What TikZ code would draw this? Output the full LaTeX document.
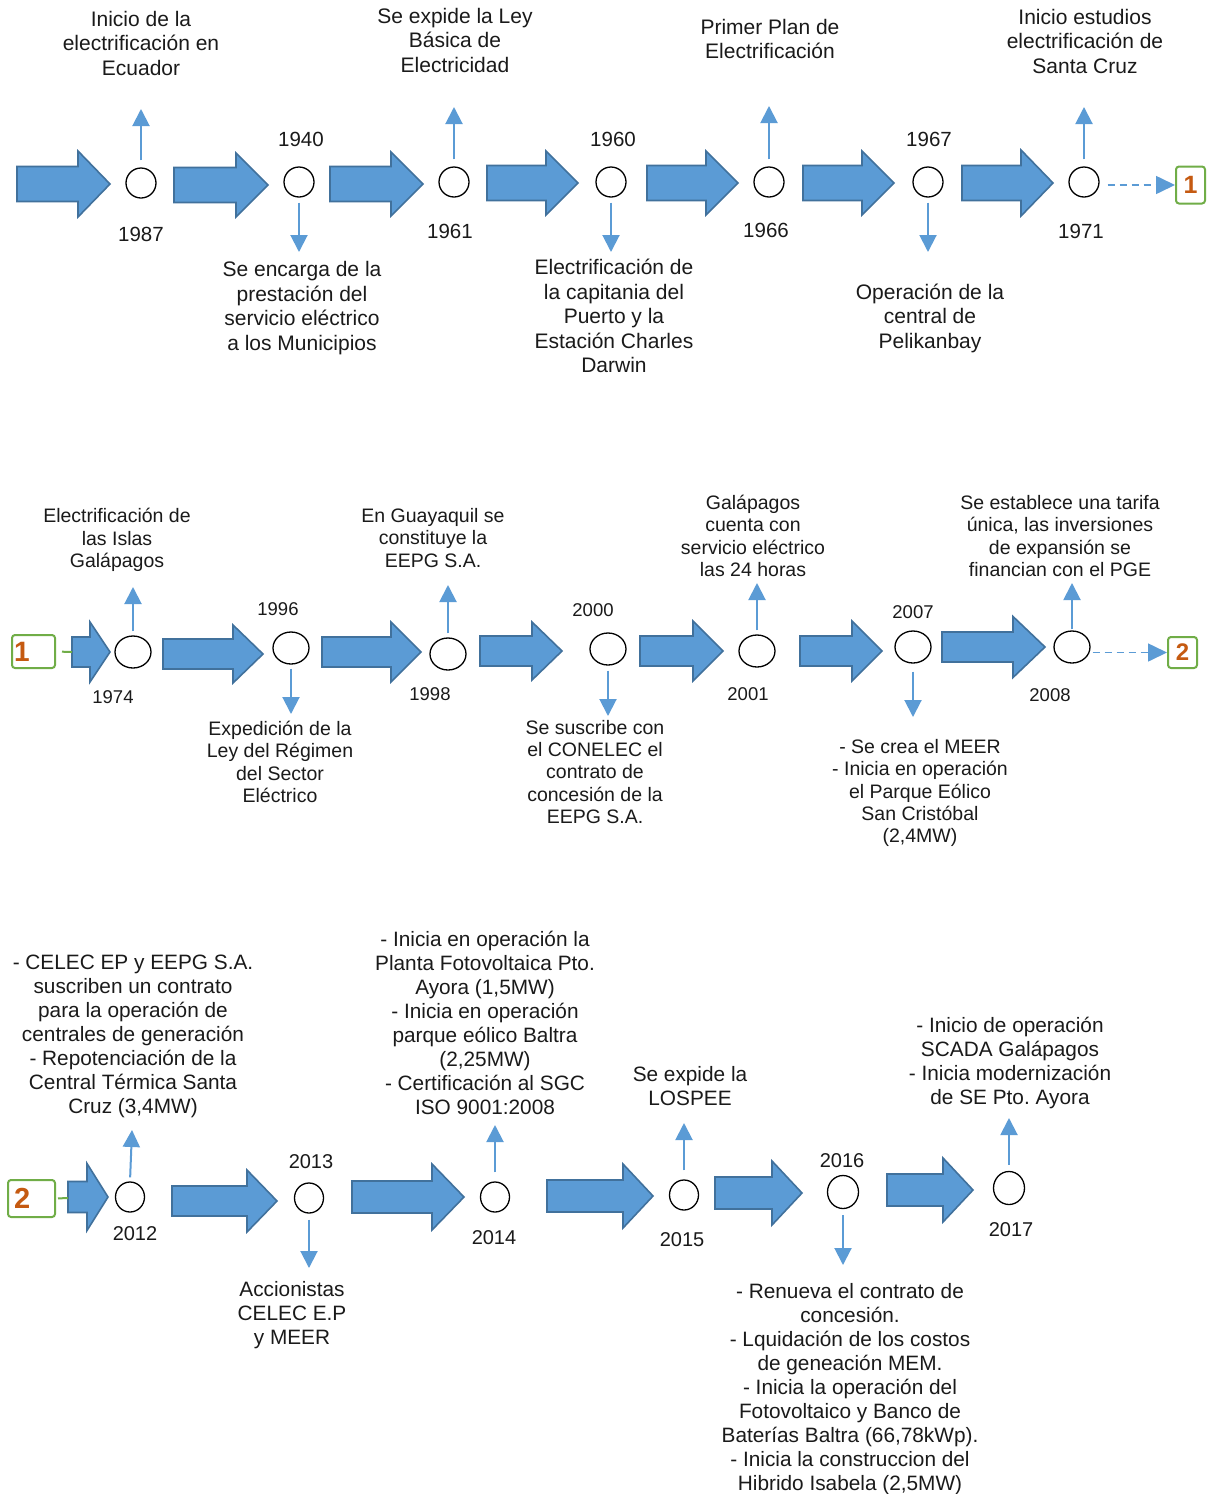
\documentclass[tikz,border=0pt]{standalone}
\usepackage{fontspec}
\setmainfont{Liberation Sans}
\usetikzlibrary{arrows.meta,shapes.geometric}
\definecolor{arrfill}{HTML}{5B9BD5}
\definecolor{arrline}{HTML}{41719C}
\definecolor{boxgreen}{HTML}{70AD47}
\definecolor{numorange}{HTML}{C55A11}
\definecolor{txt}{HTML}{1A1A1A}
\newcommand{\bigarr}[6]{%
  \filldraw[bigarrow] (#1,#4-#5) -- (#2,#4-#5) -- (#2,#4-#6) -- (#3,#4) -- (#2,#4+#6) -- (#2,#4+#5) -- (#1,#4+#5) -- cycle;}
\tikzset{
  bigarrow/.style={fill=arrfill, draw=arrline, line width=1.6pt, line join=miter},
  dotA/.style={ellipse, draw=black, line width=1.3pt, minimum width=30pt, minimum height=30pt, inner sep=0pt},
  dotB/.style={ellipse, draw=black, line width=1.3pt, minimum width=36pt, minimum height=32pt, inner sep=0pt},
  dotC/.style={ellipse, draw=black, line width=1.3pt, minimum width=29pt, minimum height=30pt, inner sep=0pt},
  smallarr/.style={draw=arrfill, line width=2pt, -{Triangle[width=17pt,length=17pt]}},
  dasharr/.style={draw=arrfill, line width=1.6pt, dash pattern=on 7pt off 5pt, -{Triangle[width=18pt,length=19pt]}},
  greenline/.style={draw=boxgreen, line width=2pt},
  numbox/.style={draw=boxgreen, line width=2pt, rounded corners=3pt, inner sep=0pt, text=numorange, font=\bfseries},
  tA/.style={align=center, inner sep=0pt, text=txt, font=\fontsize{21}{24.5}\selectfont\frenchspacing},
  tB/.style={align=center, inner sep=0pt, text=txt, font=\fontsize{19.5}{22.3}\selectfont\frenchspacing},
  tC/.style={align=center, inner sep=0pt, text=txt, font=\fontsize{20.8}{24}\selectfont\frenchspacing},
  yA/.style={inner sep=0pt, text=txt, font=\fontsize{20.5}{24}\selectfont},
  yB/.style={inner sep=0pt, text=txt, font=\fontsize{18.5}{22}\selectfont},
  yC/.style={inner sep=0pt, text=txt, font=\fontsize{20}{24}\selectfont},
}
\begin{document}
\frenchspacing
\begin{tikzpicture}[x=1pt,y=-1pt]
\fill[white] (0,0) rectangle (1212,1494);
\useasboundingbox (0,0) rectangle (1212,1494);

% ---------------- Row 1 ----------------
\bigarr{17}{78}{110}{184}{17.5}{33}
\bigarr{174}{236}{268}{185}{17.5}{32}
\bigarr{330}{391}{423}{184}{17.5}{32}
\bigarr{487}{546}{578}{183}{17.5}{32}
\bigarr{647}{706}{738}{183}{17.5}{32}
\bigarr{803}{862}{894}{183}{17.5}{32}
\bigarr{962}{1021}{1053}{183}{17.5}{33}

\node[dotA] (c1987) at (141,183) {};
\node[dotA] (c1940) at (299,182) {};
\node[dotA] (c1961) at (454,182) {};
\node[dotA] (c1960) at (611,182) {};
\node[dotA] (c1966) at (769,182) {};
\node[dotA] (c1967) at (928,182) {};
\node[dotA] (c1971) at (1084,182) {};

\node[yA] (y1987) at (141,234) {1987};
\node[yA] (y1940) at (301,139) {1940};
\node[yA] (y1961) at (450,231) {1961};
\node[yA] (y1960) at (613,139) {1960};
\node[yA] (y1966) at (766,230) {1966};
\node[yA] (y1967) at (929,139) {1967};
\node[yA] (y1971) at (1081,231) {1971};

\node[tA] (t1987) at (141,43) {Inicio de la\\electrificación en\\Ecuador};
\node[tA] (t1961) at (455,40) {Se expide la Ley\\Básica de\\Electricidad};
\node[tA] (t1966) at (770,39) {Primer Plan de\\Electrificación};
\node[tA] (t1971) at (1085,41) {Inicio estudios\\electrificación de\\Santa Cruz};
\node[tA] (t1940) at (302,308) {Se encarga de la\\prestación del\\servicio eléctrico\\a los Municipios};
\node[tA] (t1960) at (614,316) {Electrificación de\\la capitania del\\Puerto y la\\Estación Charles\\Darwin};
\node[tA] (t1967) at (930,318) {Operación de la\\central de\\Pelikanbay};

\coordinate (e1987) at (141,109);
\coordinate (e1940) at (299,252);
\coordinate (e1961) at (454,107);
\coordinate (e1960) at (611,252);
\coordinate (e1966) at (769,106);
\coordinate (e1967) at (928,252);
\coordinate (e1971) at (1084,107);
\draw[smallarr, shorten <=7pt] (c1987.north) -- (e1987);
\draw[smallarr, shorten <=5pt] (c1940.south) -- (e1940);
\draw[smallarr, shorten <=7pt] (c1961.north) -- (e1961);
\draw[smallarr, shorten <=5pt] (c1960.south) -- (e1960);
\draw[smallarr, shorten <=7pt] (c1966.north) -- (e1966);
\draw[smallarr, shorten <=5pt] (c1967.south) -- (e1967);
\draw[smallarr, shorten <=7pt] (c1971.north) -- (e1971);

\node[numbox, minimum width=29pt, minimum height=37pt, font=\bfseries\fontsize{25}{25}\selectfont] (box1a) at (1190.5,185) {1};
\draw[dasharr, shorten <=8pt] (c1971.east |- box1a.west) -- (box1a.west);

% ---------------- Row 2 ----------------
\bigarr{72}{90}{110}{652}{15}{30}
\bigarr{163}{233}{263}{654}{15}{29}
\bigarr{322}{391}{421}{652}{15}{30}
\bigarr{480}{532}{562}{651}{15}{29}
\bigarr{640}{693}{723}{651}{15}{30}
\bigarr{800}{852}{882}{651}{15}{30}
\bigarr{942}{1013}{1045}{647}{15}{30.5}

\node[numbox, minimum width=43pt, minimum height=33pt, text width=39pt, inner xsep=2pt, align=left, font=\bfseries\fontsize{28}{28}\selectfont] (box1b) at (33.5,651.5) {1};
\coordinate (g1) at (72,652);
\draw[greenline, shorten <=6pt] (box1b.east) -- (g1);

\node[dotB] (c1974) at (133,652) {};
\node[dotB] (c1996) at (291,648) {};
\node[dotB] (c1998) at (448,654) {};
\node[dotB] (c2000) at (608,649) {};
\node[dotB] (c2001) at (757,651) {};
\node[dotB] (c2007) at (913,647) {};
\node[dotB] (c2008) at (1072,647) {};

\node[yB] (y1974) at (113,697) {1974};
\node[yB] (y1996) at (278,609) {1996};
\node[yB] (y1998) at (430,694) {1998};
\node[yB] (y2000) at (593,610) {2000};
\node[yB] (y2001) at (748,694) {2001};
\node[yB] (y2007) at (913,612) {2007};
\node[yB] (y2008) at (1050,695) {2008};

\node[tB] (t1974) at (117,540) {Electrificación de\\las Islas\\Galápagos};
\node[tB] (t1998) at (433,538) {En Guayaquil se\\constituye la\\EEPG S.A.};
\node[tB] (t2001) at (753,536) {Galápagos\\cuenta con\\servicio eléctrico\\las 24 horas};
\node[tB] (t2008) at (1060,536) {Se establece una tarifa\\única, las inversiones\\de expansión se\\financian con el PGE};
\node[tB] (t1996) at (280,762) {Expedición de la\\Ley del Régimen\\del Sector\\Eléctrico};
\node[tB] (t2000) at (595,772) {Se suscribe con\\el CONELEC el\\contrato de\\concesión de la\\EEPG S.A.};
\node[tB] (t2007) at (920,793) {- Se crea el MEER\\- Inicia en operación\\el Parque Eólico\\San Cristóbal\\(2,4MW)};

\coordinate (e1974) at (133,587);
\coordinate (e1996) at (291,714);
\coordinate (e1998) at (448,585);
\coordinate (e2000) at (608,716);
\coordinate (e2001) at (757,583);
\coordinate (e2007) at (913,717);
\coordinate (e2008) at (1072,583);
\draw[smallarr, shorten <=4pt] (c1974.north) -- (e1974);
\draw[smallarr, shorten <=4pt] (c1996.south) -- (e1996);
\draw[smallarr, shorten <=4pt] (c1998.north) -- (e1998);
\draw[smallarr, shorten <=5pt] (c2000.south) -- (e2000);
\draw[smallarr, shorten <=4pt] (c2001.north) -- (e2001);
\draw[smallarr, shorten <=8pt] (c2007.south) -- (e2007);
\draw[smallarr, shorten <=1pt] (c2008.north) -- (e2008);

\node[numbox, minimum width=29pt, minimum height=31pt, font=\bfseries\fontsize{24}{24}\selectfont] (box2a) at (1182.5,652.5) {2};
\draw[dasharr, shorten <=2pt] (c2008.east |- box2a.west) -- (box2a.west);

% ---------------- Row 3 ----------------
\bigarr{68}{87}{108}{1197}{15.5}{33.5}
\bigarr{172}{247}{277}{1201}{15}{31}
\bigarr{352}{432}{464}{1197}{16}{33}
\bigarr{547}{623}{653}{1196}{16}{32}
\bigarr{715}{772}{802}{1193}{16}{32}
\bigarr{887}{943}{973}{1190}{16}{32}

\node[numbox, minimum width=47pt, minimum height=37pt, text width=41pt, inner xsep=3pt, align=left, font=\bfseries\fontsize{29}{29}\selectfont] (box2b) at (31.5,1198.5) {\hspace*{3pt}2};
\coordinate (g2) at (68,1198);
\draw[greenline, shorten <=2pt] (box2b.east) -- (g2);

\node[dotC] (c2012) at (130,1197) {};
\node[dotC] (c2013) at (309,1198) {};
\node[dotC] (c2014) at (495,1197) {};
\node[dotC] (c2015) at (684,1195) {};
\node[dotC, minimum width=31pt, minimum height=33pt] (c2016) at (843,1192) {};
\node[dotC, minimum width=31pt, minimum height=33pt] (c2017) at (1009,1188) {};

\node[yC] (y2012) at (135,1234) {2012};
\node[yC] (y2013) at (311,1162) {2013};
\node[yC] (y2014) at (494,1238) {2014};
\node[yC] (y2015) at (682,1240) {2015};
\node[yC] (y2016) at (842,1161) {2016};
\node[yC] (y2017) at (1011,1230) {2017};

\node[tC] (t2012) at (133,1036) {- CELEC EP y EEPG S.A.\\suscriben un contrato\\para la operación de\\centrales de generación\\- Repotenciación de la\\Central Térmica Santa\\Cruz (3,4MW)};
\node[tC] (t2014) at (485,1023) {- Inicia en operación la\\Planta Fotovoltaica Pto.\\Ayora (1,5MW)\\- Inicia en operación\\parque eólico Baltra\\(2,25MW)\\- Certificación al SGC\\ISO 9001:2008};
\node[tC] (t2015) at (690,1086) {Se expide la\\LOSPEE};
\node[tC] (t2017) at (1010,1063) {- Inicio de operación\\SCADA Galápagos\\- Inicia modernización\\de SE Pto. Ayora};
\node[tC] (t2013) at (292,1315) {Accionistas\\CELEC E.P\\y MEER};
\node[tC] (t2016) at (850,1389) {- Renueva el contrato de\\concesión.\\- Lquidación de los costos\\de geneación MEM.\\- Inicia la operación del\\Fotovoltaico y Banco de\\Baterías Baltra (66,78kWp).\\- Inicia la construccion del\\Hibrido Isabela (2,5MW)};

\coordinate (e2012) at (132,1130);
\coordinate (e2013) at (309,1268);
\coordinate (e2014) at (495,1125);
\coordinate (e2015) at (684,1123);
\coordinate (e2016) at (843,1265);
\coordinate (e2017) at (1009,1118);
\draw[smallarr, shorten <=4pt] (c2012.north) -- (e2012);
\draw[smallarr, shorten <=6pt] (c2013.south) -- (e2013);
\draw[smallarr, shorten <=9pt] (c2014.north) -- (e2014);
\draw[smallarr, shorten <=9pt] (c2015.north) -- (e2015);
\draw[smallarr, shorten <=6pt] (c2016.south) -- (e2016);
\draw[smallarr, shorten <=6pt] (c2017.north) -- (e2017);
\end{tikzpicture}
\end{document}
